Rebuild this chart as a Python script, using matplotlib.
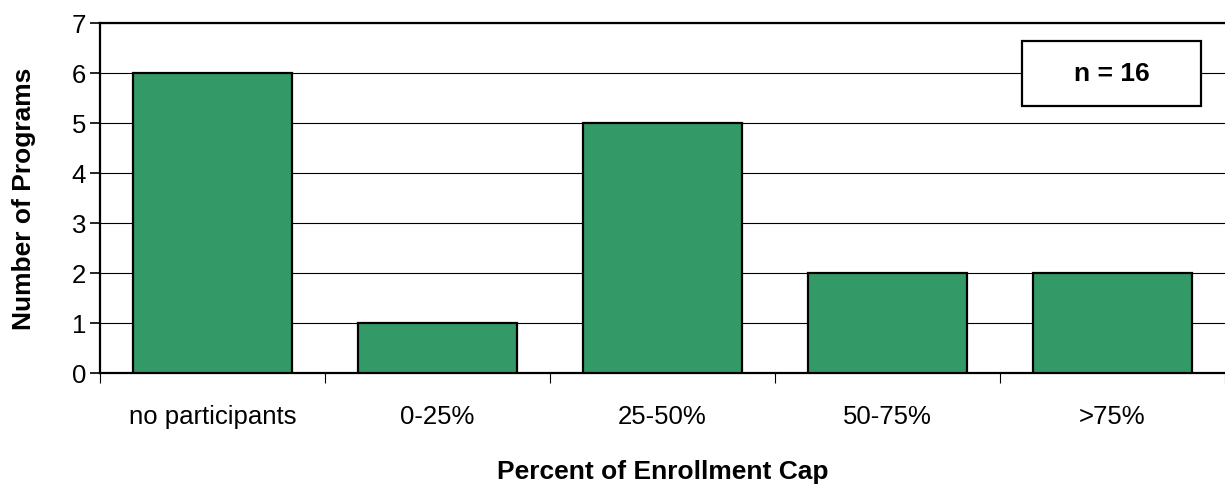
import matplotlib
matplotlib.use("Agg")
import matplotlib.pyplot as plt
from matplotlib.patches import Rectangle
import numpy as np

categories = ["no participants", "0-25%", "25-50%", "50-75%", ">75%"]
values = [6, 1, 5, 2, 2]
yticks = [0, 1, 2, 3, 4, 5, 6, 7]
annotation = "n = 16"

plt.rcParams['font.family'] = ['Liberation Sans', 'DejaVu Sans']

fig = plt.figure(figsize=(12.25, 4.89), dpi=100)
ax = fig.add_axes([100/1225, 1-374/489, 1125/1225, 350/489])

x = np.arange(len(categories))
ax.bar(x, values, width=0.711, color="#339966", edgecolor="black", linewidth=1.6, zorder=3)

ax.set_xlim(-0.5, len(categories) - 0.5)
ax.set_ylim(0, 7)
ax.set_yticks(yticks)
ax.yaxis.grid(True, color="black", linewidth=0.8, zorder=0)
ax.set_axisbelow(True)

ax.set_xticks(x)
ax.set_xticklabels(categories, fontsize=18.5)
ax.tick_params(axis='x', which='major', length=0, pad=22)
ax.set_xticks(np.arange(-0.5, len(categories)), minor=True)
ax.tick_params(axis='x', which='minor', length=7, width=0.8, direction='out')
ax.tick_params(axis='y', length=7, width=1.2, direction='out', labelsize=18.5, pad=3)

for s in ['left', 'bottom', 'top']:
    ax.spines[s].set_linewidth(1.6)
ax.spines['right'].set_visible(False)

ax.set_ylabel("Number of Programs", fontsize=19, fontweight='bold', labelpad=26)
ax.set_xlabel("Percent of Enrollment Cap", fontsize=19, fontweight='bold', labelpad=23)

x0, x1 = (1022-100)/1125, (1201-100)/1125
y0, y1 = (374-107)/350, (374-42)/350
ax.add_patch(Rectangle((x0, y0), x1-x0, y1-y0, transform=ax.transAxes,
                       facecolor="white", edgecolor="black", linewidth=1.6, zorder=5))
ax.text((x0+x1)/2, (y0+y1)/2, annotation, transform=ax.transAxes, ha='center', va='center',
        fontsize=19, fontweight='bold', zorder=6)

fig.savefig("out.png", dpi=100)
